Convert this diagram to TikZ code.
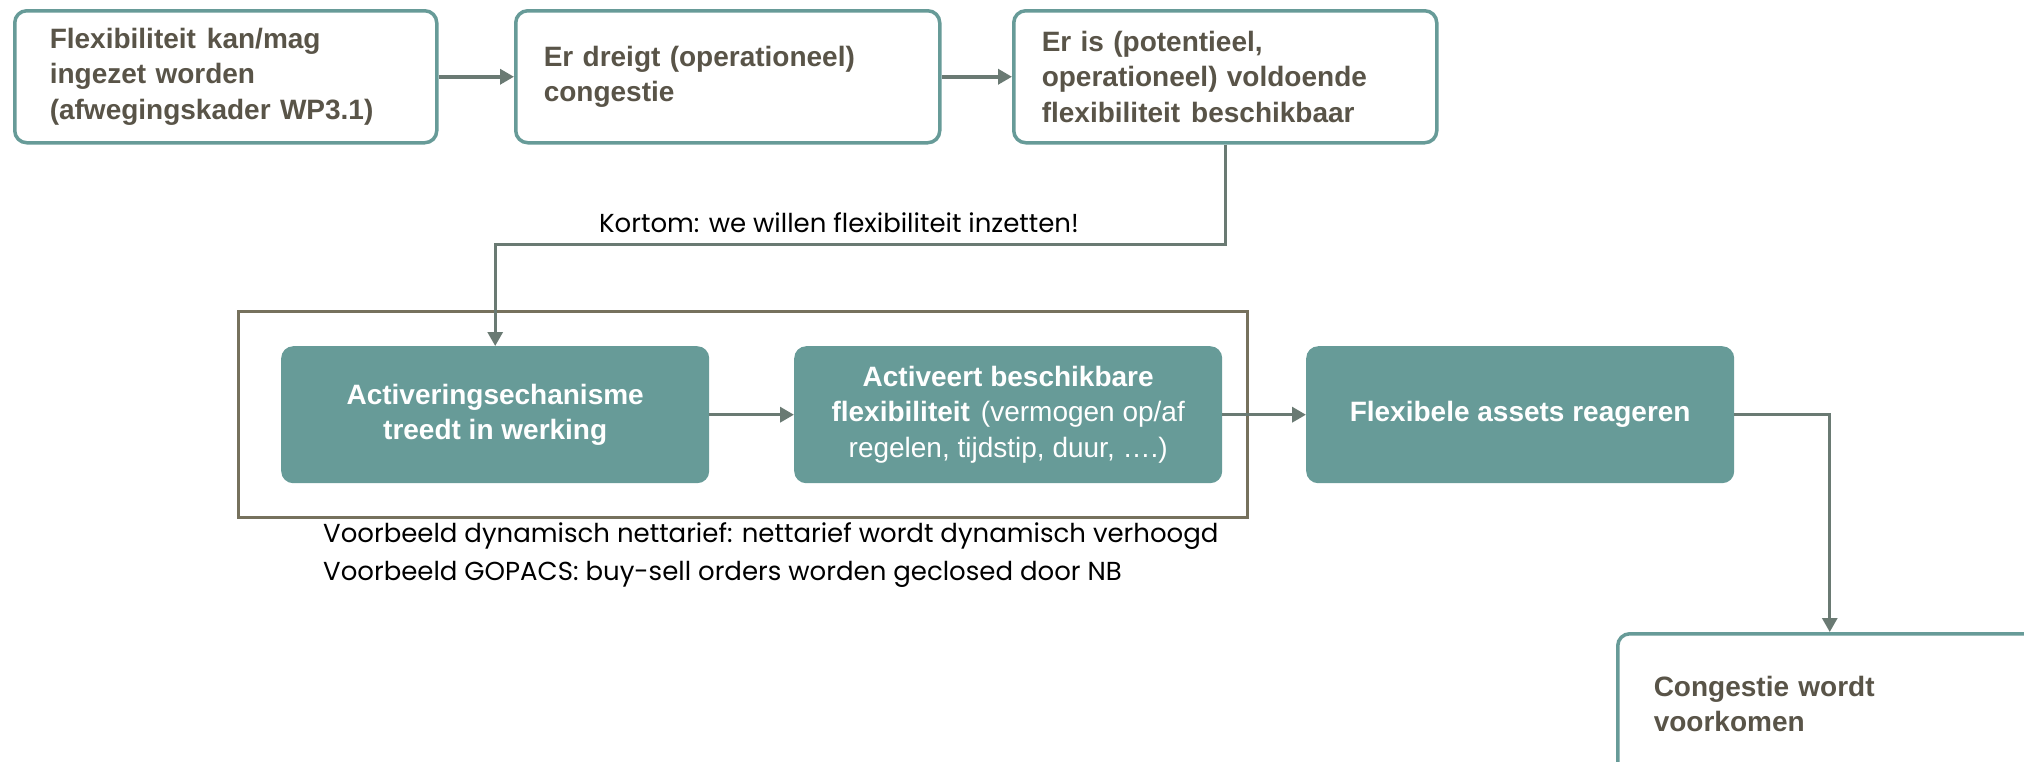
\documentclass[tikz,border=0pt]{standalone}
\usepackage{fontspec}
\setmainfont{Liberation Sans}
\newfontfamily\geo{Poppins}
\usetikzlibrary{arrows.meta}
\definecolor{teal1}{RGB}{103,155,152}
\definecolor{txt}{RGB}{89,84,72}
\definecolor{arrc}{RGB}{106,122,115}
\definecolor{grp}{RGB}{118,113,93}
\begin{document}
\begin{tikzpicture}[x=1pt,y=-1pt]
\useasboundingbox (0,0) rectangle (2024,761);
\clip (0,0) rectangle (2024,761);
\tikzset{
  wbox/.style={draw=teal1, line width=3.5pt, rounded corners=12pt, fill=white, text=txt,
    font=\fontsize{28}{35.5}\selectfont\bfseries, align=left, anchor=north west,
    inner ysep=0pt, minimum height=132pt},
  fbox/.style={fill=teal1, draw=none, rounded corners=12pt, text=white,
    font=\fontsize{28}{35.5}\selectfont, align=center, anchor=north west,
    inner sep=0pt, minimum width=428pt, minimum height=137pt},
  arr/.style={draw=arrc, line width=3.5pt, -{Triangle[length=14pt,width=15pt]}},
  geotxt/.style={font=\geo\fontsize{26}{38.7}\selectfont, text=black, inner sep=0pt}
}
% top row
\node[wbox, inner xsep=35pt, text width=352pt] (b1) at (13,9)
  {Flexibiliteit\hspace{11pt}kan/mag\\ingezet worden\\(afwegingskader WP3.1)};
\node[wbox, inner xsep=28pt, text width=368pt] (b2) at (514,9)
  {Er dreigt (operationeel)\\congestie};
\node[wbox, inner xsep=28pt, text width=367pt] (b3) at (1012,9)
  {Er is (potentieel,\\operationeel) voldoende\\flexibiliteit\hspace{11pt}beschikbaar};
% group frame
\node[draw=grp, line width=3pt, anchor=north west, inner sep=0pt,
  minimum width=1009pt, minimum height=206pt] (grp) at (237,310) {};
% middle row
\node[fbox] (bA) at (281,346) {\bfseries Activeringsechanisme\\\bfseries treedt in werking};
\node[fbox] (bB) at (794,346) {\bfseries Activeert beschikbare\\{\bfseries flexibiliteit}\hspace{11pt}(vermogen op/af\\regelen, tijdstip, duur, ….)};
\node[fbox] (bC) at (1306,346) {\bfseries Flexibele assets reageren};
% final box
\node[wbox, inner xsep=36pt, text width=352pt, minimum height=140pt] (bD) at (1616,632)
  {Congestie wordt\\voorkomen};
% labels
\node[geotxt] (kort) at (839,223) {Kortom: we willen flexibiliteit inzetten!};
\node[geotxt, anchor=north west, align=left] (vb) at (323,522)
  {Voorbeeld dynamisch nettarief: nettarief wordt dynamisch verhoogd\\Voorbeeld GOPACS: buy-sell orders worden geclosed door NB};
% connectors
\draw[arr] (b1) -- (b2);
\draw[arr] (b2) -- (b3);
\draw[arr, line width=3pt] (b3.south) -- ++(0,100) -| (bA.north);
\draw[arr] (bA) -- (bB);
\draw[arr] (bB) -- (bC);
\draw[arr, line width=3pt] (bC.east) -| (bD.north);
\end{tikzpicture}
\end{document}
